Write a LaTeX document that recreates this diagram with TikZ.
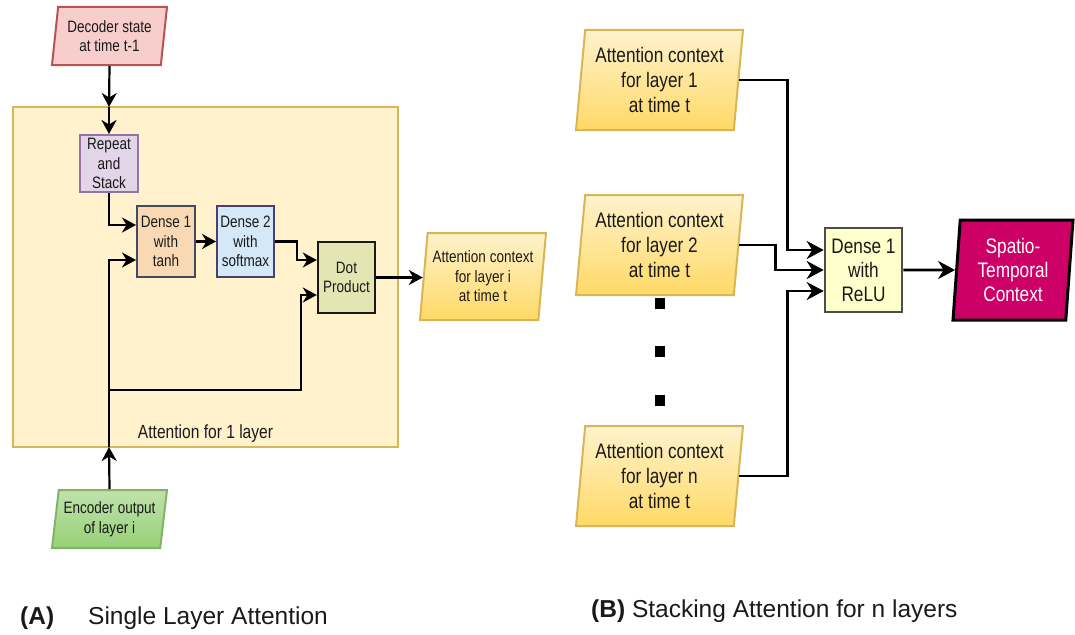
\documentclass[tikz,border=0pt]{standalone}
\usepackage{fontspec}
\newfontfamily\cond[FakeStretch=0.82]{Liberation Sans}
\newfontfamily\capfont{Liberation Sans}
\usetikzlibrary{shapes.geometric,arrows.meta,calc}
\definecolor{boxfill}{HTML}{FFF2CC}
\definecolor{boxline}{HTML}{D6B656}
\definecolor{decfill}{HTML}{F8CECC}
\definecolor{decline}{HTML}{B85450}
\definecolor{repfill}{HTML}{E1D5E7}
\definecolor{repline}{HTML}{9673A6}
\definecolor{daonefill}{HTML}{F9D9B4}
\definecolor{daoneline}{HTML}{3F4E5E}
\definecolor{datwofill}{HTML}{D4E8F8}
\definecolor{datwoline}{HTML}{4B3F72}
\definecolor{dotfill}{HTML}{E3E6B3}
\definecolor{relufill}{HTML}{FFFFCC}
\definecolor{reluline}{HTML}{4D4D4D}
\definecolor{stfill}{HTML}{CC0066}
\definecolor{actop}{HTML}{FFF2CC}
\definecolor{acbot}{HTML}{FFD966}
\definecolor{enctop}{HTML}{BFE3AC}
\definecolor{encbot}{HTML}{97D077}
\definecolor{encline}{HTML}{82B366}
\definecolor{txt}{HTML}{1A1A1A}
\begin{document}
\begin{tikzpicture}[x=1pt,y=-1pt,
  smalltxt/.style={font=\cond\fontsize{16.5}{19.5}\selectfont},
  bigtxt/.style={font=\cond\fontsize{21}{25}\selectfont},
  blk/.style={rectangle, inner sep=0pt, align=center, text=txt, line width=2pt, smalltxt},
  para/.style={trapezium, trapezium stretches body, inner sep=0pt, align=center, text=txt},
  acpara/.style={para, top color=actop, bottom color=acbot, draw=boxline, line width=2pt},
  arr/.style={line width=2.2pt, -{Stealth[length=14pt,width=15pt,inset=4.5pt]}},
  arrR/.style={line width=2.6pt, -{Stealth[length=17pt,width=18pt,inset=5.5pt]}},
  dotsq/.style={rectangle, fill=black, inner sep=0pt, minimum width=10pt, minimum height=11pt}
]
\useasboundingbox (0,0) rectangle (1075,634);

% ---------- (A) ----------
\node[draw=boxline, fill=boxfill, line width=2pt, minimum width=385pt, minimum height=340pt, inner sep=0pt] (outer) at (205.5,277) {};
\node[smalltxt, font=\cond\fontsize{19}{22}\selectfont, text=txt, inner sep=0pt] (outerlbl) at (205.5,434) {Attention for 1 layer};

\node[para, smalltxt, trapezium left angle=79, trapezium right angle=101, minimum width=115pt, minimum height=58pt, fill=decfill, draw=decline, line width=2pt] (dec) at (109.5,36) {Decoder state\\at time t-1};
\node[para, smalltxt, trapezium left angle=79, trapezium right angle=101, minimum width=115pt, minimum height=58pt, top color=enctop, bottom color=encbot, draw=encline, line width=2pt] (enc) at (109.5,519) {Encoder output\\of layer i};

\node[blk, fill=repfill, draw=repline, minimum width=58pt, minimum height=57pt] (rep) at (109,163.5) {Repeat\\and\\Stack};
\node[blk, fill=daonefill, draw=daoneline, minimum width=58pt, minimum height=71pt] (dA) at (166,241.5) {Dense 1\\with\\tanh};
\node[blk, fill=datwofill, draw=datwoline, minimum width=57pt, minimum height=71pt] (dB) at (245.5,241.5) {Dense 2\\with\\softmax};
\node[blk, fill=dotfill, draw=txt, line width=2.4pt, minimum width=57pt, minimum height=71pt] (dot) at (346.5,277.5) {Dot\\Product};

\node[acpara, smalltxt, trapezium left angle=81.5, trapezium right angle=98.5, minimum width=126pt, minimum height=87pt] (aci) at (483,276.5) {Attention context\\for layer i\\at time t};

\coordinate (btop) at (109,107);
\coordinate (bbot) at (109,447);
\coordinate (br) at (109,390);

\draw[arr] (dec.south) -- (btop);
\draw[arr] (btop) -- (rep.north);
\draw[arr] (rep.south) |- ($(dA.west)+(0,-16.5)$);
\draw[arr] (dA.east) -- (dB.west);
\draw[arr] (dB.east) -- ++(22,0) |- ($(dot.west)+(0,-17.5)$);
\draw[arr] (dot.east) -- (dot.east -| aci.west);
\draw[arr] (enc.north) -- (bbot);
\draw[arr] (bbot) |- ($(dA.west)+(0,18.5)$);
\draw[arr] (br) -| ($(dot.west)+(-16,17.5)$) -- ($(dot.west)+(0,17.5)$);

% ---------- (B) ----------
\node[acpara, bigtxt, trapezium left angle=82, trapezium right angle=98, minimum width=167pt, minimum height=100pt] (acA) at (659.5,80) {Attention context\\for layer 1\\at time t};
\node[acpara, bigtxt, trapezium left angle=82, trapezium right angle=98, minimum width=167pt, minimum height=100pt] (acB) at (659.5,245) {Attention context\\for layer 2\\at time t};
\node[acpara, bigtxt, trapezium left angle=82, trapezium right angle=98, minimum width=167pt, minimum height=100pt] (acN) at (659.5,476) {Attention context\\for layer n\\at time t};

\node[dotsq] (dq1) at (660,303) {};
\node[dotsq] (dq2) at (660,351) {};
\node[dotsq] (dq3) at (660,400) {};

\node[blk, bigtxt, font=\cond\fontsize{21}{24}\selectfont, fill=relufill, draw=reluline, line width=2.6pt, minimum width=77pt, minimum height=84pt] (relu) at (863.5,270) {Dense 1\\with\\ReLU};
\node[para, bigtxt, font=\cond\fontsize{21}{24}\selectfont, text=white, trapezium left angle=83.5, trapezium right angle=96.5, minimum width=120pt, minimum height=100pt, fill=stfill, draw=black, line width=3pt] (st) at (1013,270) {Spatio-\\Temporal\\Context};

\draw[arrR] (acA.east) -- ++(48,0) |- ($(relu.west)+(0,-20)$);
\draw[arrR] (acB.east) -- ++(36,0) |- (relu.west);
\draw[arrR] (acN.east) -- ++(48,0) |- ($(relu.west)+(0,21)$);
\draw[arrR] (relu.east) -- (st.west);

% ---------- captions ----------
\node[anchor=west, inner sep=0pt, text=txt, font=\capfont\fontsize{24.5}{28}\selectfont] (capA) at (20,618) {\textbf{(A)}};
\node[anchor=west, inner sep=0pt, text=txt, font=\capfont\fontsize{24.5}{28}\selectfont] (capAt) at (88,618) {Single Layer Attention};
\node[anchor=west, inner sep=0pt, text=txt, font=\capfont\fontsize{24.5}{28}\selectfont] (capB) at (591,611) {\textbf{(B)} Stacking Attention for n layers};
\end{tikzpicture}
\end{document}
